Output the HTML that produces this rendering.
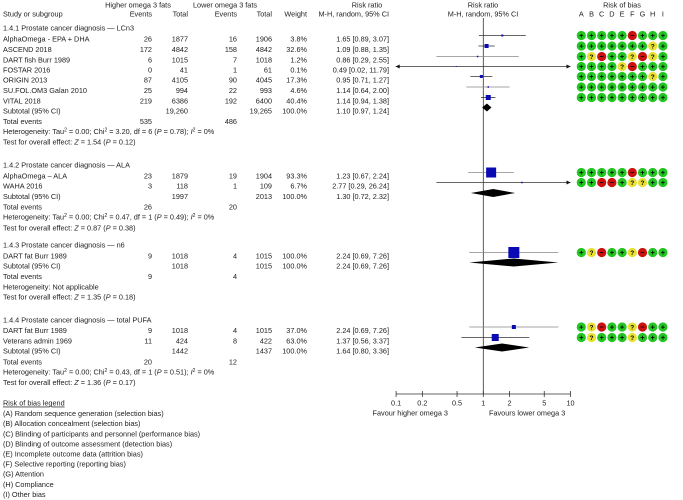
<!DOCTYPE html>
<html><head><meta charset="utf-8"><style>
html,body{margin:0;padding:0;background:#fff;}
svg{display:block;font-family:"Liberation Sans",Arial,sans-serif;font-size:7.3px;fill:#222;}
</style></head><body>
<svg id="c" width="683" height="500" viewBox="0 0 683 500"></svg>
<script>
const studies = ["AlphaOmega - EPA + DHA","ASCEND 2018","DART fish Burr 1989","FOSTAR 2016","ORIGIN 2013","SU.FOL.OM3 Galan 2010","VITAL 2018","AlphaOmega – ALA","WAHA 2016","DART fat Burr 1989","DART fat Burr 1989","Veterans admin 1969"];
const studyY = [39,49.5,60,70,80,90.5,101,176,186,256,330.5,341];
const evH = [26,172,6,0,87,25,219,23,3,9,9,11];
const totH = [1877,4842,1015,41,4105,994,6386,1879,118,1018,1018,424];
const evL = [16,158,7,1,90,22,192,19,1,4,4,8];
const totL = [1906,4842,1018,61,4045,993,6400,1904,109,1015,1015,422];
const weights = ["3.8%","32.6%","1.2%","0.1%","17.3%","4.6%","40.4%","93.3%","6.7%","100.0%","37.0%","63.0%"];
const rr = [1.65,1.09,0.86,0.49,0.95,1.14,1.14,1.23,2.77,2.24,2.24,1.37];
const lo = [0.89,0.88,0.29,0.02,0.71,0.64,0.94,0.67,0.29,0.69,0.69,0.56];
const hi = [3.07,1.35,2.55,11.79,1.27,2.00,1.38,2.24,26.24,7.26,7.26,3.37];
const rrText = ["1.65 [0.89, 3.07]","1.09 [0.88, 1.35]","0.86 [0.29, 2.55]","0.49 [0.02, 11.79]","0.95 [0.71, 1.27]","1.14 [0.64, 2.00]","1.14 [0.94, 1.38]","1.23 [0.67, 2.24]","2.77 [0.29, 26.24]","2.24 [0.69, 7.26]","2.24 [0.69, 7.26]","1.37 [0.56, 3.37]"];
const boxSize = [2,4,1.5,1,3,1.5,5,10,1.5,11,4,7];
const bias = ["+++++-+++","+++++++?+","+?-++?-?+","++++?-+++","+++++++?+","+++++++++","+++++++++","+++++-+++","++--+??++","+?-++?-++","+?-++?-++","+?+++?+++"];
const subY = [111,196.5,266,351];
const subTotH = ["19,260","1997","1018","1442"];
const subTotL = ["19,265","2013","1015","1437"];
const subRR = [1.10,1.30,2.24,1.64];
const subLo = [0.97,0.72,0.69,0.80];
const subHi = [1.24,2.32,7.26,3.36];
const subText = ["1.10 [0.97, 1.24]","1.30 [0.72, 2.32]","2.24 [0.69, 7.26]","1.64 [0.80, 3.36]"];
const totEvY = [121.5,207,276.5,362];
const totEvH = [535,26,9,20];
const totEvL = [486,20,4,12];
const ticks = [0.1,0.2,0.5,1,2,5,10];

const svg = document.getElementById('c');
const NS = 'http://www.w3.org/2000/svg';
function el(tag, attrs, parent){const e=document.createElementNS(NS,tag);for(const k in attrs)e.setAttribute(k,attrs[k]);(parent||svg).appendChild(e);return e;}
function txt(x,y,s,anchor,name){const t=el('text',{x:x,y:y+2.6,'text-anchor':anchor||'start'});t.innerHTML=s;


return t;}
const xs = v => 483.3 + 87.2*Math.log10(v);

txt(138,5,'Higher omega 3 fats','middle','header-higher-omega');
txt(225,5,'Lower omega 3 fats','middle','header-lower-omega');
txt(367,5,'Risk ratio','middle','header-risk-ratio');
txt(483,5,'Risk ratio','middle','header-risk-ratio-plot');
txt(622,5,'Risk of bias','middle','header-risk-of-bias');
txt(3,14,'Study or subgroup','start','header-study');
txt(152,14,'Events','end','header-events-high');
txt(188,14,'Total','end','header-total-high');
txt(237,14,'Events','end','header-events-low');
txt(272,14,'Total','end','header-total-low');
txt(307,14,'Weight','end','header-weight');
txt(389,14,'M-H, random, 95% CI','end','header-mh');
txt(483,14,'M-H, random, 95% CI','middle','header-mh-plot');
const letters="ABCDEFGHI";
for(let j=0;j<9;j++) txt(581.3+10.2*j,14,letters[j],'middle','bias-column-'+letters[j]);

const secT=[[28,'1.4.1 Prostate cancer diagnosis — LCn3'],[165,'1.4.2 Prostate cancer diagnosis — ALA'],[245,'1.4.3 Prostate cancer diagnosis — n6'],[320,'1.4.4 Prostate cancer diagnosis — total PUFA']];
secT.forEach(s=>txt(3,s[0],s[1],'start','subgroup-title'));

const zl=el('line',{x1:xs(1),x2:xs(1),y1:18,y2:394,stroke:'#333','stroke-width':0.8});



studies.forEach((s,i)=>{
  const y=studyY[i], my=y-3.5;
  txt(3,y,s,'start','study-name');
  txt(152,y,evH[i],'end','events-high');
  txt(188,y,totH[i],'end','total-high');
  txt(237,y,evL[i],'end','events-low');
  txt(272,y,totL[i],'end','total-low');
  txt(307,y,weights[i],'end','weight');
  txt(389,y,rrText[i],'end','risk-ratio-ci');
  const x1=Math.max(xs(lo[i]),395.7), x2=Math.min(xs(hi[i]),570.5);
  const ln=el('line',{x1:x1,x2:x2,y1:my,y2:my,stroke:(i===1||i===4||i===6||i===0||i===3||i===8||i===11)?'#333':'#888','stroke-width':0.8});
  
  
  if(xs(hi[i])>570.5){const a=el('path',{d:`M570.5,${my} l-4,-2 v4 z`,fill:'#111'});}
  if(xs(lo[i])<395.7){const a=el('path',{d:`M395.7,${my} l4,-2 v4 z`,fill:'#111'});}
  const b=boxSize[i];
  const r=el('rect',{x:xs(rr[i])-b/2,y:my-b/2,width:b,height:b,fill:'#0a0ab4'});
  
  
  for(let j=0;j<9;j++){
    const c=bias[i][j], cx=581.3+10.2*j;
    const fill=c==='+'?'#22c522':(c==='?'?'#e8e030':'#cc1111');
    const ci=el('circle',{cx:cx,cy:my,r:4.6,fill:fill});
    
    
    if(c!=='-'){const t=el('text',{x:cx,y:my+2.4,'text-anchor':'middle','font-size':c==='?'?'6.5px':'7.5px','font-weight':'bold',fill:'#000'});t.textContent=c;
      
      }
    else {const t=el('line',{x1:cx-1.8,x2:cx+1.8,y1:my,y2:my,stroke:'#000','stroke-width':0.8});}
  }
});

subY.forEach((y,k)=>{
  txt(3,y,'Subtotal (95% CI)','start','subtotal-label');
  txt(188,y,subTotH[k],'end','subtotal-total-high');
  txt(272,y,subTotL[k],'end','subtotal-total-low');
  txt(307,y,'100.0%','end','subtotal-weight');
  txt(389,y,subText[k],'end','subtotal-ci');
  const my=y-3.5, a=xs(subLo[k]), c=xs(subRR[k]), b=xs(subHi[k]);
  const d=el('path',{d:`M${a},${my} L${c},${my-4} L${b},${my} L${c},${my+4} Z`,fill:'#000'});
  
  
});
totEvY.forEach((y,k)=>{
  txt(3,y,'Total events','start','total-events-label');
  txt(152,y,totEvH[k],'end','total-events-high');
  txt(237,y,totEvL[k],'end','total-events-low');
});
const sup='<tspan dy="-2.5" font-size="5px">2</tspan>';
function hetS(chi,df,p){return 'Heterogeneity: Tau'+sup+'<tspan dy="2.5"> = 0.00; Chi</tspan>'+sup+'<tspan dy="2.5"> = '+chi+', df = '+df+' (</tspan><tspan font-style="italic">P</tspan> = '+p+'); <tspan font-style="italic">I</tspan>'+sup+'<tspan dy="2.5"> = 0%</tspan>';}
const het=[[131.5,hetS('3.20',6,'0.78')],[217,hetS('0.47',1,'0.49')],[287,'Heterogeneity: Not applicable'],[372,hetS('0.43',1,'0.51')]];
het.forEach(h=>txt(3,h[0],h[1],'start','heterogeneity'));
const tst=[[142,'1.54','0.12'],[228,'0.87','0.38'],[297,'1.35','0.18'],[382.5,'1.36','0.17']];
tst.forEach(t=>txt(3,t[0],'Test for overall effect: <tspan font-style="italic">Z</tspan> = '+t[1]+' (<tspan font-style="italic">P</tspan> = '+t[2]+')','start','overall-effect-test'));

const ax=el('line',{x1:xs(0.1),x2:xs(10),y1:394,y2:394,stroke:'#333','stroke-width':0.8});


ticks.forEach(v=>{
  const t=el('line',{x1:xs(v),x2:xs(v),y1:391,y2:397,stroke:'#333','stroke-width':0.8});
  
  
  txt(xs(v),403,String(v),'middle','x-tick-label');
});
txt(448,413,'Favour higher omega 3','end','favours-higher-label');
txt(489,413,'Favours lower omega 3','start','favours-lower-label');

const lg=txt(3,403,'Risk of bias legend','start','risk-of-bias-legend-title');
lg.setAttribute('text-decoration','underline');
const leg=["(A) Random sequence generation (selection bias)","(B) Allocation concealment (selection bias)","(C) Blinding of participants and personnel (performance bias)","(D) Blinding of outcome assessment (detection bias)","(E) Incomplete outcome data (attrition bias)","(F) Selective reporting (reporting bias)","(G) Attention","(H) Compliance","(I) Other bias"];
leg.forEach((s,k)=>txt(3,413.5+10.1*k,s,'start','legend-entry'));
</script>
</body></html>
